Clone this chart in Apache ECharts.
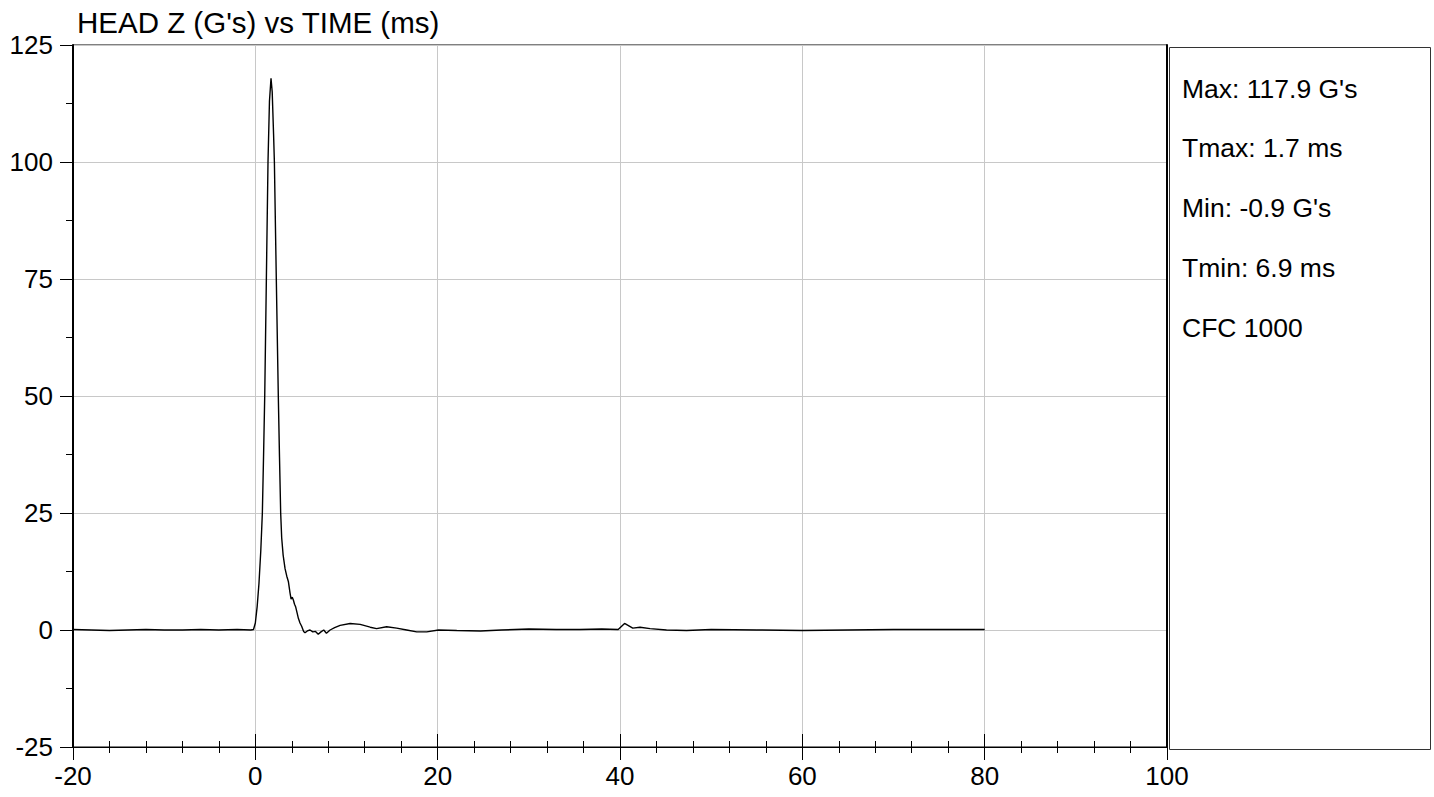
<!DOCTYPE html>
<html>
<head>
<meta charset="utf-8">
<script src="https://cdn.jsdelivr.net/npm/echarts@6/dist/echarts.min.js"></script>
<style>
html,body{margin:0;padding:0;background:#fff;}
#chart{width:1434px;height:797px;}
</style>
</head>
<body>
<div id="chart"></div>
<script>
// ---- data ----
const chartTitle = "HEAD Z (G's) vs TIME (ms)";
const timeMs = [
  -20, -18, -16, -14, -12, -10, -8, -6, -4, -2, -0.5, -0.2,
  0.0, 0.2, 0.4, 0.6, 0.77, 0.9, 1.03, 1.21, 1.39, 1.55, 1.72, 1.85, 2.0, 2.09,
  2.3, 2.52, 2.65, 2.78, 2.89, 3.05, 3.26, 3.45, 3.63, 3.8, 3.92, 4.05, 4.17, 4.3,
  4.43, 4.6, 4.72, 4.9, 5.08, 5.3, 5.45, 5.7, 6.0, 6.3, 6.6, 6.9, 7.2, 7.5, 7.8,
  8.2, 8.7, 9.3, 10.4, 11.5, 12.6, 13.3, 14.4, 15.5, 16.6, 17.7, 18.8, 20.1, 22.1,
  24.7, 27, 30, 33, 35.6, 38, 39.8, 40.5, 41.4, 42.2, 43.3, 45.1, 47.3, 50, 55,
  60, 65, 70, 75, 80
];
const headZ = [
  0.1, 0.0, -0.1, 0.0, 0.1, 0.0, 0.0, 0.1, 0.0, 0.1, 0.0, 0.1,
  1.5, 5, 10, 17, 25, 37, 50, 75, 100, 113, 117.9, 115, 106, 100,
  75, 50, 37, 25, 19.7, 16, 13.1, 11.5, 10.3, 8, 6.6, 7.0, 6.4, 5.5,
  4.9, 3.5, 2.5, 1.5, 0.8, -0.3, -0.6, -0.2, 0.0, -0.4, -0.3, -0.9, -0.4, 0.0, -0.7,
  0.0, 0.5, 1.0, 1.4, 1.2, 0.6, 0.3, 0.7, 0.4, 0.0, -0.4, -0.4, 0.0, -0.1,
  -0.2, 0.0, 0.2, 0.1, 0.1, 0.2, 0.1, 1.4, 0.4, 0.6, 0.3, 0.0, -0.1, 0.1, 0.0,
  -0.1, 0.0, 0.1, 0.1, 0.1
];
const statLines = ["Max: 117.9 G's", "Tmax: 1.7 ms", "Min: -0.9 G's", "Tmin: 6.9 ms", "CFC 1000"];
const xMin = -20, xMax = 100, xStep = 20;
const yMin = -25, yMax = 125, yStep = 25;

// ---- chart ----
const FONT = "Arial, 'Liberation Sans', sans-serif";
const chart = echarts.init(document.getElementById('chart'), null, {renderer: 'svg'});
const seriesData = timeMs.map((t, i) => [t, headZ[i]]);
const gridLeft = 73, gridTop = 45, gridRight = 267, gridBottom = 50;
const panelLeft = 1434 - gridRight, panelWidth = 261, panelHeight = 797 - gridTop - gridBottom;

const statTexts = statLines.map((s, i) => ({
  type: 'text',
  left: panelLeft + 15,
  top: 75 + i * 59.8,
  style: {text: s, fontSize: 26.5, fontFamily: FONT, fill: '#000'}
}));

chart.setOption({
  animation: false,
  backgroundColor: '#fff',
  title: {
    text: chartTitle, left: 77, top: 7, padding: 0,
    textStyle: {fontSize: 29.5, fontWeight: 'normal', fontFamily: FONT, color: '#000'}
  },
  grid: {left: gridLeft, right: gridRight, top: gridTop, bottom: gridBottom,
         show: true, borderColor: '#000', borderWidth: 1, backgroundColor: 'transparent'},
  xAxis: [
    {type: 'value', min: xMin, max: xMax, interval: xStep, position: 'bottom',
     axisLine: {show: true, onZero: false, lineStyle: {color: '#000', width: 1}},
     axisTick: {show: true, inside: false, length: 13, lineStyle: {color: '#000'}},
     minorTick: {show: true, splitNumber: 5, length: 6, lineStyle: {color: '#000'}},
     axisLabel: {fontSize: 26, fontFamily: FONT, color: '#000', margin: 16},
     splitLine: {show: true, lineStyle: {color: '#c8c8c8', width: 1}}},
    {type: 'value', min: xMin, max: xMax, interval: xStep, position: 'bottom',
     axisLine: {show: false, onZero: false},
     axisTick: {show: true, inside: true, length: 13, lineStyle: {color: '#000'}},
     minorTick: {show: true, splitNumber: 5, length: 6, lineStyle: {color: '#000'}},
     axisLabel: {show: false}, splitLine: {show: false}}
  ],
  yAxis: [
    {type: 'value', min: yMin, max: yMax, interval: yStep, position: 'left',
     axisLine: {show: true, onZero: false, lineStyle: {color: '#000', width: 2}},
     axisTick: {show: true, inside: false, length: 13, lineStyle: {color: '#000'}},
     minorTick: {show: true, splitNumber: 2, length: 6, lineStyle: {color: '#000'}},
     axisLabel: {fontSize: 26, fontFamily: FONT, color: '#000', margin: 20},
     splitLine: {show: true, lineStyle: {color: '#c8c8c8', width: 1}}},
    {type: 'value', min: yMin, max: yMax, interval: yStep, position: 'left',
     axisLine: {show: false, onZero: false},
     axisTick: {show: false},
     minorTick: {show: true, splitNumber: 2, length: 7, lineStyle: {color: '#000'}},
     axisLabel: {show: false}, splitLine: {show: false}},
    {type: 'value', min: yMin, max: yMax, interval: yStep, position: 'right',
     axisLine: {show: true, onZero: false, lineStyle: {color: '#000', width: 2}},
     axisTick: {show: false}, axisLabel: {show: false}, splitLine: {show: false}}
  ],
  series: [{
    type: 'line', xAxisIndex: 0, yAxisIndex: 0, data: seriesData,
    showSymbol: false, smooth: false,
    lineStyle: {color: '#000', width: 1.4}
  }],
  graphic: [
    {type: 'rect', left: panelLeft, top: gridTop,
     shape: {width: panelWidth, height: panelHeight},
     style: {fill: 'none', stroke: '#333', lineWidth: 1}}
  ].concat(statTexts)
});
</script>
</body>
</html>
